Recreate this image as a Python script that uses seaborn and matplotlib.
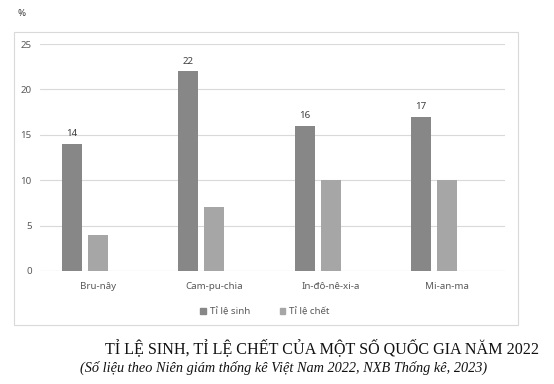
import pandas as pd
import seaborn as sns
import matplotlib.pyplot as plt
from matplotlib.patches import Rectangle

# du lieu doc tu hinh
quoc_gia = ['Bru-nây', 'Cam-pu-chia', 'In-đô-nê-xi-a', 'Mi-an-ma']
ti_le_sinh = [14, 22, 16, 17]
ti_le_chet = [4, 7, 10, 10]
ten_chuoi = ['Tỉ lệ sinh', 'Tỉ lệ chết']
mau = ['#878787', '#a6a6a6']

df = pd.DataFrame({
    'Quoc_gia': quoc_gia * 2,
    'Chuoi': [ten_chuoi[0]] * 4 + [ten_chuoi[1]] * 4,
    'Gia_tri': ti_le_sinh + ti_le_chet,
})

sns.set_theme(style='white')
plt.rcParams['font.family'] = ['Noto Sans', 'DejaVu Sans']

fig = plt.figure(figsize=(5.54, 3.84), dpi=100)
ax = fig.add_axes([40 / 554, 113 / 384, 465 / 554, 227 / 384])

# chuoi thu ba de trong (giong Excel) nen cot lech sang trai
palette = {ten_chuoi[0]: mau[0], ten_chuoi[1]: mau[1], ' ': 'white'}
sns.barplot(data=df, x='Quoc_gia', y='Gia_tri', hue='Chuoi',
            hue_order=ten_chuoi + [' '], order=quoc_gia, palette=palette,
            width=0.672, gap=0.23, legend=False, ax=ax, saturation=1,
            linewidth=0)

# nhan so tren cot ti le sinh
ax.bar_label(ax.containers[0], fontsize=7, color='#404040', padding=4)

ax.set_ylim(0, 25)
ax.set_yticks(range(0, 26, 5))
ax.set_xlim(-0.5, 3.5)
ax.grid(axis='y', color='#d9d9d9', lw=0.8)
ax.set_axisbelow(True)
for s in ax.spines.values():
    s.set_visible(False)
ax.axhline(0, color='#d9d9d9', lw=0.8, zorder=0)
ax.tick_params(axis='both', length=0, labelsize=7, colors='#595959')
ax.tick_params(axis='y', pad=6)
ax.tick_params(axis='x', pad=8)
ax.set_xlabel('')
ax.set_ylabel('')

# chu giai
handles = [Rectangle((0, 0), 1, 1, color=c) for c in mau]
fig.legend(handles, ten_chuoi, loc='center', bbox_to_anchor=(265 / 554, 1 - 312 / 384),
           ncol=2, frameon=False, fontsize=7, handlelength=0.6, handleheight=0.6,
           handletextpad=0.4, columnspacing=3, labelcolor='#595959')

# khung bieu do
fig.patches.append(Rectangle((14 / 554, 1 - 325 / 384), 504 / 554, 293 / 384,
                             transform=fig.transFigure, fill=False,
                             edgecolor='#d9d9d9', lw=0.8))

fig.text(18 / 554, 1 - 14 / 384, '%', fontsize=7, color='#404040', va='center')

fig.text(322 / 554, 1 - 348 / 384, 'TỈ LỆ SINH, TỈ LỆ CHẾT CỦA MỘT SỐ QUỐC GIA NĂM 2022',
         family='Liberation Serif', fontsize=11.6, ha='center', va='center', color='#111111')
fig.text(284 / 554, 1 - 368 / 384,
         '(Số liệu theo Niên giám thống kê Việt Nam 2022, NXB Thống kê, 2023)',
         family='Liberation Serif', style='italic', fontsize=10.3, ha='center', va='center',
         color='#111111')

fig.savefig('out.png', dpi=100)
